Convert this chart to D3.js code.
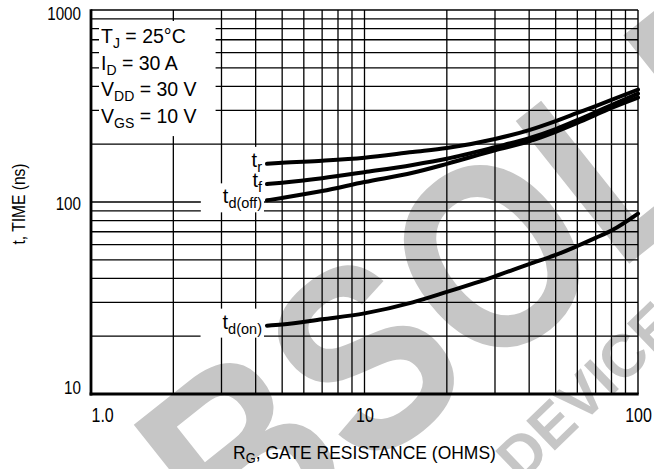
<!DOCTYPE html>
<html>
<head>
<meta charset="utf-8">
<script src="https://cdn.jsdelivr.net/npm/d3@7"></script>
<style>
    body { margin: 0; background: #fff; }
    svg text { font-family: "Liberation Sans", Arial, sans-serif; fill: #000; }
</style>
</head>
<body>
<div id="chart"></div>
<script>
// gate resistance (ohms)
const rg = [4.4, 5, 7, 10, 15, 20, 30, 40, 50, 60, 70, 80, 100];
// switching times (ns)
const t_r = [158, 160, 164, 170, 182, 191, 213, 237, 264, 291, 316, 340, 385];
const t_f = [124, 126, 133, 143, 156, 168, 193, 215, 240, 267, 294, 320, 367];
const t_d_off = [102, 105, 114, 127, 142, 158, 186, 207, 232, 258, 284, 309, 350];
const t_d_on = [22.7, 23, 24.5, 26.3, 30, 34, 41, 47.5, 53, 59, 65, 71, 87];

const x_ticks = [1, 10, 100];
const x_tick_labels = ["1.0", "10", "100"];
const y_ticks = [10, 100, 1000];
const y_tick_labels = ["10", "100", "1000"];
const conditions = [["T", "J", " = 25°C"], ["I", "D", " = 30 A"], ["V", "DD", " = 30 V"], ["V", "GS", " = 10 V"]];

const W = 654, H = 469;
const margin = {top: 10, right: 16, bottom: 75, left: 91},
    width = W - margin.left - margin.right,
    height = H - margin.top - margin.bottom;

const svg = d3.select("#chart")
    .append("svg")
    .attr("width", W)
    .attr("height", H);

// watermark, behind everything
const wm = svg.append("g");
wm.append("text")
    .attr("transform", "translate(524,226) rotate(-38.5) scale(0.85,1)")
    .attr("text-anchor", "middle")
    .attr("y", 95)
    .style("font-weight", "bold")
    .style("font-size", "265px")
    .style("fill", "#c6c6c6")
    .text("OBSOLETE");
wm.append("text")
    .attr("transform", "translate(586,390) rotate(-44)")
    .attr("text-anchor", "middle")
    .attr("y", 22)
    .style("font-weight", "bold")
    .style("font-size", "60px")
    .style("fill", "#c6c6c6")
    .text("DEVICE");

const g = svg.append("g")
    .attr("transform", `translate(${margin.left}, ${margin.top})`);

const x = d3.scaleLog().domain([1, 100]).range([0, width]);
const y = d3.scaleLog().domain([10, 1000]).range([height, 0]);

// grid
g.append("g")
    .selectAll("line")
    .data(x.ticks().filter(d => d > 1 && d < 100))
    .join("line")
    .attr("x1", d => x(d)).attr("x2", d => x(d))
    .attr("y1", 0).attr("y2", height)
    .attr("stroke", "#000").attr("stroke-width", 1.3);
g.append("g")
    .selectAll("line")
    .data(y.ticks().filter(d => d > 10 && d < 1000))
    .join("line")
    .attr("y1", d => y(d)).attr("y2", d => y(d))
    .attr("x1", 0).attr("x2", width)
    .attr("stroke", "#000").attr("stroke-width", 1.3);

const boxes = g.append("g").attr("fill", "#fff");
const curves = g.append("g");
const labels = g.append("g");

// frame: thin top/right, heavy left/bottom
g.append("line").attr("x1", 0).attr("x2", width).attr("y1", 0).attr("y2", 0)
    .attr("stroke", "#000").attr("stroke-width", 1.4);
g.append("line").attr("x1", width).attr("x2", width).attr("y1", 0).attr("y2", height)
    .attr("stroke", "#000").attr("stroke-width", 1.4);
g.append("line").attr("x1", 0).attr("x2", 0).attr("y1", -0.7).attr("y2", height + 1.4)
    .attr("stroke", "#000").attr("stroke-width", 2.8);
g.append("line").attr("x1", -1.4).attr("x2", width + 0.7).attr("y1", height).attr("y2", height)
    .attr("stroke", "#000").attr("stroke-width", 2.8);

function rich_text(sel, parts, sub_size, shift) {
    sel.append("tspan").text(parts[0]);
    sel.append("tspan").attr("font-size", sub_size).attr("dy", shift).text(parts[1]);
    if (parts[2]) {
        sel.append("tspan").attr("dy", -shift).text(parts[2]);
    }
}

function white_box(node, pad) {
    const b = node.getBBox();
    boxes.append("rect")
        .attr("x", b.x - pad[0])
        .attr("y", b.y - pad[1])
        .attr("width", b.width + pad[0] + pad[2])
        .attr("height", b.height + pad[1] + pad[3]);
}

// test conditions block
const cond = labels.append("g");
conditions.forEach(function (c, i) {
    const t = cond.append("text")
        .attr("x", 10)
        .attr("y", 33 + i * 26.7)
        .style("font-size", "19.5px");
    rich_text(t, c, "14px", 5);
});
white_box(cond.node(), [2, 4, 19, 5]);

// curves
const series = [
    {name: ["t", "r"], values: t_r, pad: 8},
    {name: ["t", "f"], values: t_f, pad: 8},
    {name: ["t", "d(off)"], values: t_d_off, pad: 22},
    {name: ["t", "d(on)"], values: t_d_on, pad: 22}
];

const line = d3.line()
    .x((d, i) => x(rg[i]))
    .y(d => y(d))
    .curve(d3.curveMonotoneX);

series.forEach(function (s) {
    curves.append("path")
        .attr("d", line(s.values))
        .attr("fill", "none")
        .attr("stroke", "#000")
        .attr("stroke-width", 4)
        .attr("stroke-linecap", "round");
    const t = labels.append("text")
        .attr("x", x(rg[0]) - 5)
        .attr("y", y(s.values[0]) + 3)
        .attr("text-anchor", "end")
        .style("font-size", "20px");
    rich_text(t, s.name, "14.5px", 5);
    white_box(t.node(), [s.pad, 2, 2, 1]);
});

// axis labels (condensed face imitated with a horizontal squeeze)
const squeeze = 0.8;
const xa = g.append("g")
    .attr("transform", `translate(0, ${height})`)
    .call(d3.axisBottom(x).tickValues(x_ticks).tickSize(0).tickPadding(14)
        .tickFormat((d, i) => x_tick_labels[i]));
xa.select(".domain").remove();
xa.selectAll("text").style("font-size", "20px").attr("font-family", null)
    .attr("transform", `scale(${squeeze},1)`);
xa.selectAll("text").filter((d, i) => i === 0).attr("text-anchor", "start");

const ya = g.append("g")
    .call(d3.axisLeft(y).tickValues(y_ticks).tickSize(0).tickPadding(10 / squeeze)
        .tickFormat((d, i) => y_tick_labels[i]));
ya.select(".domain").remove();
ya.selectAll("text").style("font-size", "19px").attr("font-family", null)
    .attr("transform", `scale(${squeeze},1)`)
    .attr("dy", (d, i) => i === 0 ? "-0.05em" : (i === 2 ? "0.5em" : "0.4em"));

// axis titles
svg.append("text")
    .attr("transform", "translate(25, 204) rotate(-90) scale(0.82,1)")
    .attr("text-anchor", "middle")
    .style("font-size", "19px")
    .text("t, TIME (ns)");

const xt = svg.append("text")
    .attr("transform", `translate(${margin.left + width / 2}, 459) scale(0.92,1)`)
    .attr("text-anchor", "middle")
    .style("font-size", "19px");
rich_text(xt, ["R", "G", ", GATE RESISTANCE (OHMS)"], "14px", 4);
</script>
</body>
</html>
